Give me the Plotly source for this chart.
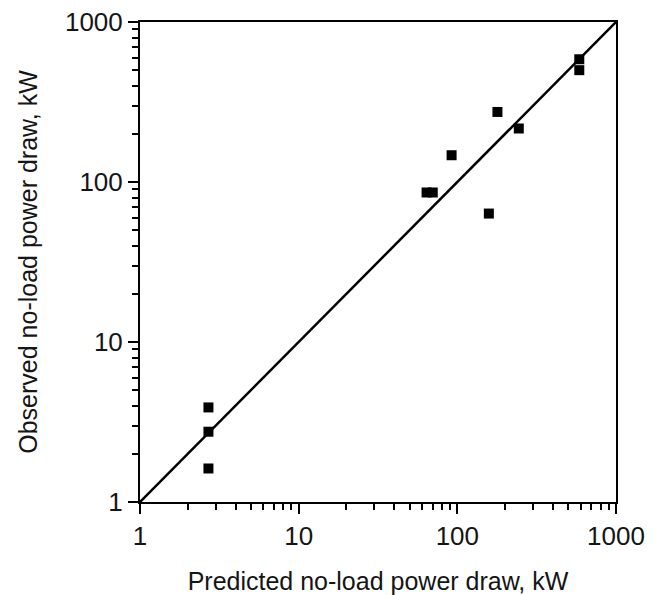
import plotly.graph_objects as go

predicted_kw = [2.7, 2.7, 2.7, 64, 70, 92, 158, 179, 244, 587, 587]
observed_kw = [3.9, 2.75, 1.62, 86, 86, 147, 63.5, 274, 216, 585, 500]
line_kw = [1, 1000]
major_ticks = [1, 10, 100, 1000]
minor_ticks = [m * d for d in [1, 10, 100] for m in range(2, 10)]

font_family = "Liberation Sans, Arial, Helvetica, sans-serif"

fig = go.Figure()
fig.add_trace(go.Scatter(x=line_kw, y=line_kw, mode="lines",
                         line=dict(color="black", width=2.5), hoverinfo="skip"))
fig.add_trace(go.Scatter(x=predicted_kw, y=observed_kw, mode="markers",
                         marker=dict(symbol="square", size=10, color="black")))

axis_common = dict(
    type="log", range=[0, 3], showgrid=False, zeroline=False,
    showline=True, linecolor="black", linewidth=2, mirror=True,
    ticks="outside", ticklen=10, tickwidth=2, tickcolor="black",
    tickmode="array", tickvals=major_ticks, ticktext=[str(v) for v in major_ticks],
    tickfont=dict(size=26, color="#151515", family=font_family),
    ticklabeloverflow="allow",
    minor=dict(ticks="outside", ticklen=6, tickwidth=2, tickcolor="black",
               tickmode="array", tickvals=minor_ticks, showgrid=False),
)

# page body adds an 8px offset, so the figure is laid out 8px smaller
fig.update_layout(
    width=657, height=587,
    margin=dict(l=132, r=49, t=14, b=93, autoexpand=False),
    paper_bgcolor="white", plot_bgcolor="white",
    showlegend=False,
    xaxis=dict(axis_common, automargin=False,
               title=dict(text="Predicted no-load power draw, kW",
                          font=dict(size=25, color="#151515", family=font_family), standoff=24)),
    yaxis=dict(axis_common, automargin=False,
               title=dict(text="Observed no-load power draw, kW",
                          font=dict(size=25, color="#151515", family=font_family), standoff=20)),
)

fig.write_html("out.html")
